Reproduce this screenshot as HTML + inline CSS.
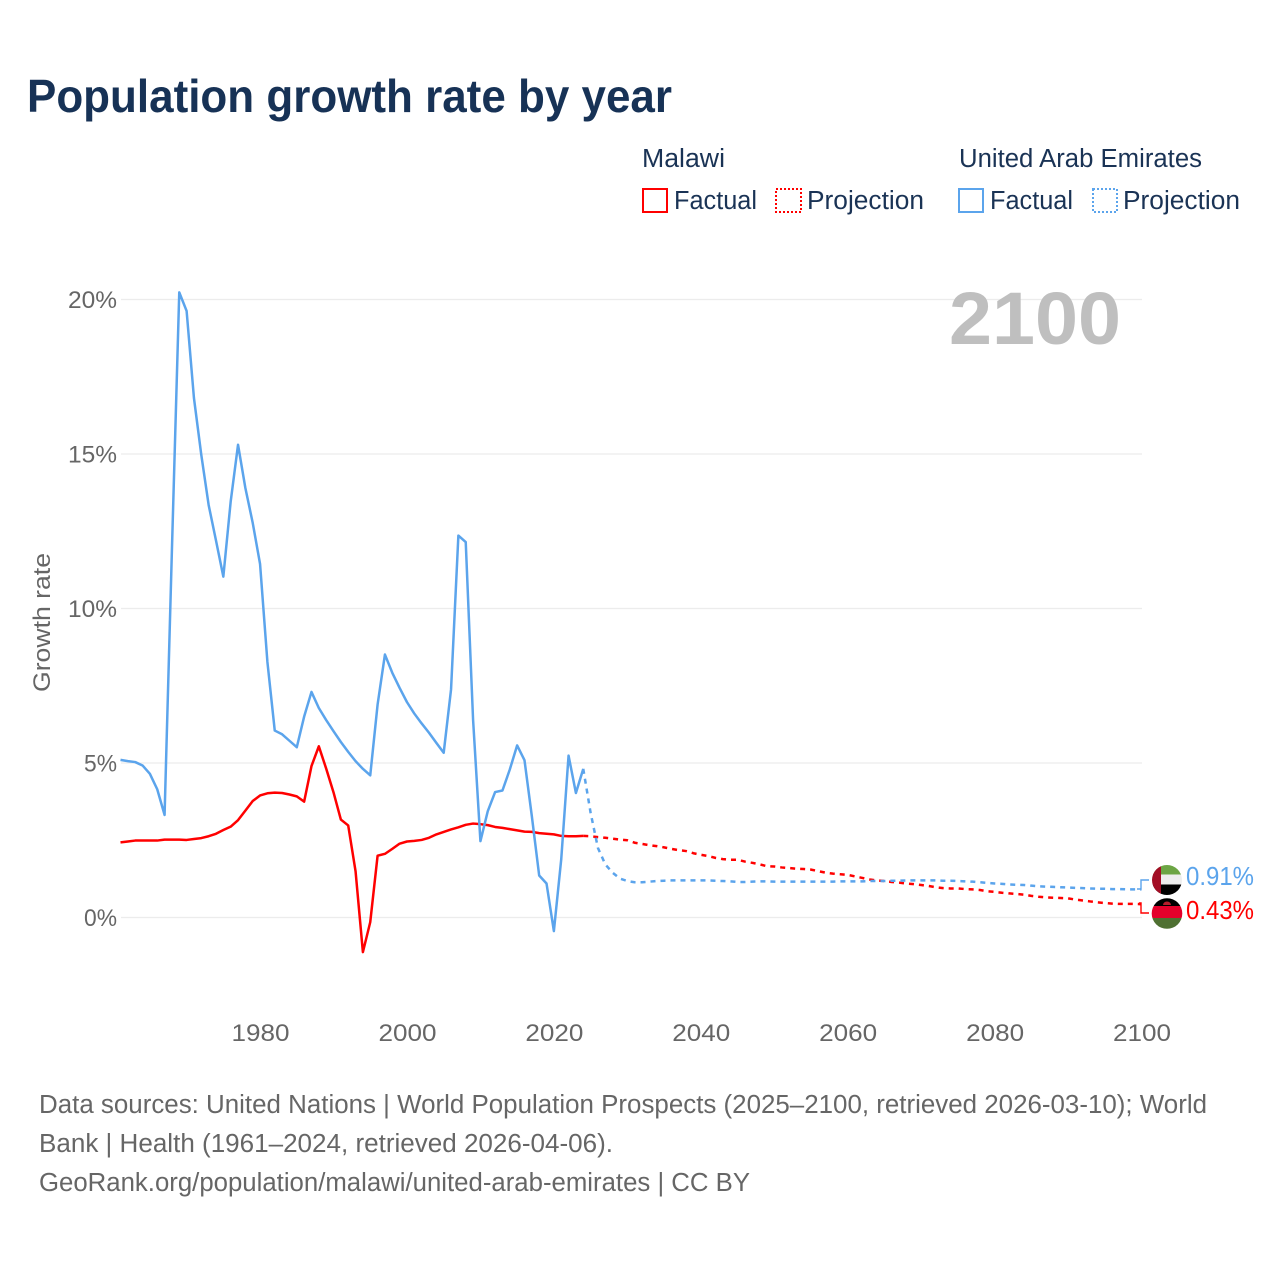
<!DOCTYPE html>
<html>
<head>
<meta charset="utf-8">
<title>Population growth rate by year</title>
<style>
html,body{margin:0;padding:0;background:#fff;}
svg{display:block;}
text{font-family:"Liberation Sans",sans-serif;}
</style>
</head>
<body>
<svg id="chart" xmlns="http://www.w3.org/2000/svg" width="1280" height="1280" viewBox="0 0 1280 1280">
  <rect width="1280" height="1280" fill="#ffffff"/>
  <text x="27" y="112" font-size="46.5" font-weight="700" fill="#173256" textLength="645" lengthAdjust="spacingAndGlyphs">Population growth rate by year</text>

  <g font-size="25.5" fill="#1a3355">
    <text x="642" y="167" textLength="83" lengthAdjust="spacingAndGlyphs">Malawi</text>
    <rect x="643" y="189" width="24" height="23" fill="none" stroke="#ff0000" stroke-width="2"/>
    <text x="674" y="209" textLength="83" lengthAdjust="spacingAndGlyphs">Factual</text>
    <rect x="776" y="189" width="25" height="23" fill="none" stroke="#ff0000" stroke-width="2" stroke-dasharray="2 2"/>
    <text x="807" y="209" textLength="117" lengthAdjust="spacingAndGlyphs">Projection</text>
    <text x="959" y="167" textLength="243" lengthAdjust="spacingAndGlyphs">United Arab Emirates</text>
    <rect x="959" y="189" width="24" height="23" fill="none" stroke="#5ba4ec" stroke-width="2"/>
    <text x="990" y="209" textLength="83" lengthAdjust="spacingAndGlyphs">Factual</text>
    <rect x="1093" y="189" width="24" height="23" fill="none" stroke="#5ba4ec" stroke-width="2" stroke-dasharray="2 2"/>
    <text x="1123" y="209" textLength="117" lengthAdjust="spacingAndGlyphs">Projection</text>
  </g>

  <g id="grid"></g>
  <g id="yticks"></g>
  <g id="xticks"></g>

  <text x="949" y="344" font-size="74" font-weight="700" fill="#bfbfbf" textLength="172" lengthAdjust="spacingAndGlyphs">2100</text>

  <text transform="translate(50,692) rotate(-90)" font-size="24" fill="#666666" textLength="139" lengthAdjust="spacingAndGlyphs">Growth rate</text>

  <g id="series"></g>

  <polyline points="1137,889 1141,889 1141,880 1149,880" fill="none" stroke="#5ba4ec" stroke-width="1.4"/>
  <polyline points="1139,903 1141,903 1141,913 1149,913" fill="none" stroke="#ff0000" stroke-width="1.4"/>

  <defs>
    <clipPath id="clipUae"><circle cx="1167" cy="880" r="15"/></clipPath>
    <clipPath id="clipMalawi"><circle cx="1167" cy="913.5" r="15.3"/></clipPath>
  </defs>
  <g clip-path="url(#clipUae)">
    <rect x="1152" y="865" width="30" height="9.5" fill="#6ca544"/>
    <rect x="1152" y="874.5" width="30" height="10" fill="#eeeeee"/>
    <rect x="1152" y="884.5" width="30" height="11" fill="#000000"/>
    <rect x="1152" y="865" width="9" height="30" fill="#a30e25"/>
  </g>
  <g clip-path="url(#clipMalawi)">
    <rect x="1151" y="898" width="32" height="8" fill="#000000"/>
    <rect x="1151" y="906" width="32" height="12" fill="#e4002b"/>
    <rect x="1151" y="918" width="32" height="11" fill="#4f7032"/>
    <path d="M1163 905 a4 3.5 0 0 1 8 0 z" fill="#b81d2c"/>
  </g>

  <text x="1186" y="885" font-size="25.5" fill="#5ba4ec" textLength="68" lengthAdjust="spacingAndGlyphs">0.91%</text>
  <text x="1186" y="919" font-size="25.5" fill="#ff0000" textLength="68" lengthAdjust="spacingAndGlyphs">0.43%</text>

  <g font-size="25.5" fill="#666666">
    <text x="39" y="1113" textLength="1168" lengthAdjust="spacingAndGlyphs">Data sources: United Nations | World Population Prospects (2025–2100, retrieved 2026-03-10); World</text>
    <text x="39" y="1152" textLength="574" lengthAdjust="spacingAndGlyphs">Bank | Health (1961–2024, retrieved 2026-04-06).</text>
    <text x="39" y="1191" textLength="711" lengthAdjust="spacingAndGlyphs">GeoRank.org/population/malawi/united-arab-emirates | CC BY</text>
  </g>
</svg>

<script>
const factualStartYear = 1961;
const projectionStartYear = 2024;
const xTickYears = [1980, 2000, 2020, 2040, 2060, 2080, 2100];
const yTickValues = [0, 5, 10, 15, 20];

const malawiFactual = [
  2.43,2.46,2.49,2.49,2.49,2.49,2.52,2.52,2.52,2.51,
  2.54,2.57,2.63,2.71,2.83,2.94,3.15,3.46,3.77,3.95,
  4.02,4.04,4.03,3.98,3.92,3.75,4.90,5.54,4.82,4.05,
  3.17,2.98,1.50,-1.12,-0.15,2.00,2.06,2.22,2.39,2.46,
  2.48,2.51,2.58,2.69,2.77,2.85,2.92,3.00,3.04,3.02,
  2.99,2.93,2.90,2.86,2.82,2.78,2.77,2.73,2.71,2.69,
  2.64,2.63,2.63,2.64
];
const uaeFactual = [
  5.10,5.06,5.03,4.92,4.65,4.15,3.32,11.9,20.23,19.63,
  16.81,14.97,13.35,12.20,11.03,13.46,15.30,13.90,12.77,11.44,
  8.27,6.05,5.93,5.72,5.51,6.50,7.30,6.78,6.39,6.03,
  5.68,5.36,5.06,4.81,4.60,6.89,8.51,7.92,7.43,6.97,
  6.60,6.28,5.98,5.65,5.33,7.38,12.36,12.15,6.40,2.47,
  3.44,4.06,4.11,4.79,5.57,5.09,3.28,1.36,1.10,-0.44,
  1.88,5.24,4.03,4.81
];
const malawiProjection = [
  2.64,2.63,2.60,2.58,2.55,2.52,2.50,2.42,2.38,2.34,
  2.31,2.27,2.22,2.18,2.15,2.08,2.03,1.99,1.93,1.89,
  1.87,1.87,1.81,1.77,1.72,1.66,1.65,1.62,1.60,1.58,
  1.57,1.55,1.50,1.45,1.42,1.40,1.38,1.33,1.28,1.23,
  1.20,1.18,1.15,1.13,1.10,1.08,1.05,1.02,0.98,0.95,
  0.94,0.94,0.92,0.91,0.89,0.85,0.83,0.80,0.78,0.76,
  0.74,0.70,0.67,0.65,0.64,0.63,0.62,0.58,0.55,0.52,
  0.49,0.47,0.45,0.44,0.44,0.44,0.43
];
const uaeProjection = [
  4.81,3.39,2.25,1.72,1.45,1.26,1.18,1.14,1.14,1.16,
  1.18,1.19,1.20,1.20,1.20,1.20,1.20,1.20,1.19,1.18,
  1.17,1.15,1.15,1.16,1.17,1.17,1.16,1.16,1.16,1.16,
  1.16,1.16,1.16,1.16,1.16,1.17,1.17,1.17,1.17,1.18,
  1.18,1.18,1.19,1.19,1.20,1.20,1.20,1.20,1.20,1.19,
  1.19,1.18,1.17,1.16,1.14,1.12,1.10,1.09,1.07,1.06,
  1.05,1.03,1.01,1.00,0.99,0.98,0.97,0.96,0.95,0.94,
  0.93,0.93,0.92,0.92,0.91,0.91,0.91
];

const SVG_NS = 'http://www.w3.org/2000/svg';
const RED = '#ff0000';
const BLUE = '#5ba4ec';
function xScale(year) { return 120.5 + (year - 1961) * (1141.5 - 120.5) / (2100 - 1961); }
function yScale(v) { return 917.5 - v * (917.5 - 299.5) / 20; }

const grid = document.getElementById('grid');
const yticks = document.getElementById('yticks');
const xticks = document.getElementById('xticks');
const series = document.getElementById('series');

yTickValues.forEach(function (v) {
  const line = document.createElementNS(SVG_NS, 'line');
  
  
  line.setAttribute('x1', 121);
  line.setAttribute('x2', 1142);
  line.setAttribute('y1', yScale(v));
  line.setAttribute('y2', yScale(v));
  line.setAttribute('stroke', '#ececec');
  line.setAttribute('stroke-width', '1.2');
  grid.appendChild(line);

  const label = document.createElementNS(SVG_NS, 'text');
  
  
  const str = v + '%';
  const w = str.length === 3 ? 49 : 33;
  label.setAttribute('x', 117 - w);
  label.setAttribute('y', yScale(v) + 8.5);
  label.setAttribute('font-size', '24.5');
  label.setAttribute('fill', '#666666');
  label.setAttribute('textLength', w);
  label.setAttribute('lengthAdjust', 'spacingAndGlyphs');
  label.textContent = str;
  yticks.appendChild(label);
});

xTickYears.forEach(function (yr) {
  const label = document.createElementNS(SVG_NS, 'text');
  
  
  label.setAttribute('x', xScale(yr) - 28.5);
  label.setAttribute('y', 1041);
  label.setAttribute('font-size', '24.5');
  label.setAttribute('fill', '#666666');
  label.setAttribute('textLength', '58');
  label.setAttribute('lengthAdjust', 'spacingAndGlyphs');
  label.textContent = yr;
  xticks.appendChild(label);
});

function pointsFor(values, startYear) {
  return values.map(function (v, i) {
    return xScale(startYear + i).toFixed(2) + ',' + yScale(v).toFixed(2);
  }).join(' ');
}

function drawLine(values, startYear, color, dashed, name) {
  const pl = document.createElementNS(SVG_NS, 'polyline');
  
  
  pl.setAttribute('points', pointsFor(values, startYear));
  pl.setAttribute('fill', 'none');
  pl.setAttribute('stroke', color);
  pl.setAttribute('stroke-width', '2.5');
  pl.setAttribute('stroke-linejoin', 'round');
  if (dashed) pl.setAttribute('stroke-dasharray', '5 5');
  series.appendChild(pl);
}

drawLine(malawiProjection, projectionStartYear, RED, true, 'malawi-projection-line');
drawLine(uaeProjection, projectionStartYear, BLUE, true, 'uae-projection-line');
drawLine(malawiFactual, factualStartYear, RED, false, 'malawi-factual-line');
drawLine(uaeFactual, factualStartYear, BLUE, false, 'uae-factual-line');
</script>
</body>
</html>
